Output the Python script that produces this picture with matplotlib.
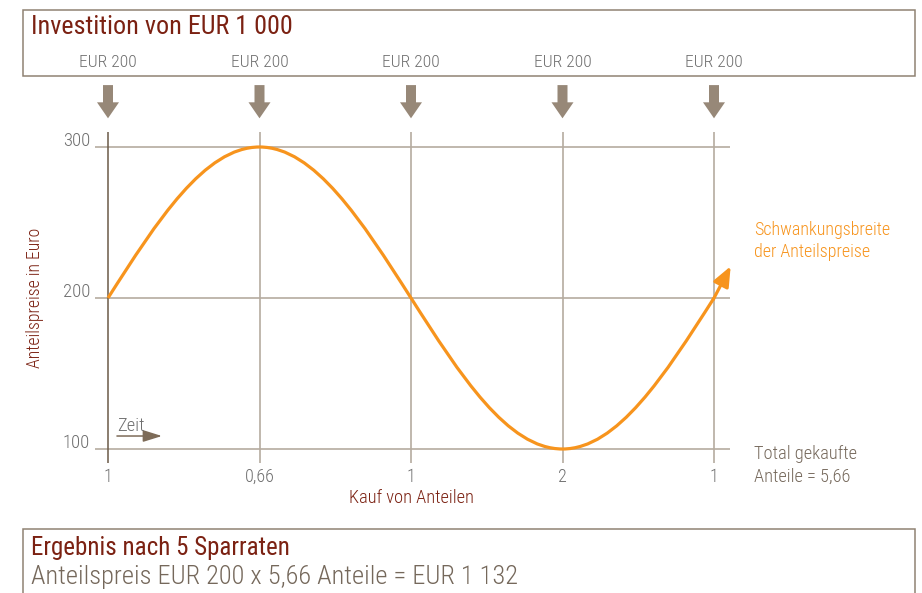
import os
import matplotlib
matplotlib.use("Agg")
import matplotlib.pyplot as plt
import matplotlib.font_manager as fm
from matplotlib.path import Path
from matplotlib.patches import PathPatch, FancyArrow, Rectangle

# ---------------- data ----------------
purchase_idx = [0, 1, 2, 3, 4]
prices = [200, 300, 200, 100, 200]
price_mean = 200
shares_labels = ["1", "0,66", "1", "2", "1"]
rate_labels = ["EUR 200", "EUR 200", "EUR 200", "EUR 200", "EUR 200"]
price_ticks = [100, 200, 300]
title_top = "Investition von EUR 1 000"
result_title = "Ergebnis nach 5 Sparraten"
result_text = "Anteilspreis EUR 200 x 5,66 Anteile = EUR 1 132"
total_text = "Total gekaufte\nAnteile = 5,66"
range_text = "Schwankungsbreite\nder Anteilspreise"

# ---------------- fonts ----------------
files = [f.fname for f in fm.fontManager.ttflist]
def find_font(patterns):
    for p in patterns:
        for fn in files:
            if os.path.basename(fn).lower() == p:
                return fn
    return None

light_file = find_font(["robotocondensed-light.ttf", "roboto-light.ttf",
                        "opensans-light.ttf", "lato-light.ttf"])
reg_file = find_font(["robotocondensed-regular.ttf", "roboto-regular.ttf",
                      "opensans-regular.ttf", "lato-regular.ttf"])

def fp(size, light=True):
    f = light_file if light else reg_file
    if f:
        return fm.FontProperties(fname=f, size=size)
    return fm.FontProperties(family="DejaVu Sans", size=size)

# ---------------- colours ----------------
DARKRED = "#7b2112"
GRAY = "#6f6f6f"
BROWN = "#75685b"
ORANGE = "#f7941d"
ARROW = "#978878"
GRID = "#b5aba0"
FIRSTV = "#6b5a48"
BOX = "#8f8273"

W, H = 922, 593
fig = plt.figure(figsize=(W / 100, H / 100), dpi=100)

def fx(x):
    return x / W
def fy(y):
    return 1 - y / H

# boxes
fig.patches.append(Rectangle((fx(23), fy(76)), fx(915) - fx(23), fy(10) - fy(76),
                             transform=fig.transFigure, fill=False, ec=BOX, lw=1.1))
fig.patches.append(Rectangle((fx(23), fy(600)), fx(915) - fx(23), fy(529) - fy(600),
                             transform=fig.transFigure, fill=False, ec=BOX, lw=1.1,
                             clip_on=False))

fig.text(fx(31), fy(27), title_top, color=DARKRED, fontproperties=fp(18.8, light=False),
         ha="left", va="center")
fig.text(fx(31), fy(548), result_title, color=DARKRED, fontproperties=fp(18, light=False),
         ha="left", va="center")
fig.text(fx(31), fy(577), result_text, color=BROWN, fontproperties=fp(19),
         ha="left", va="center")

# ---------------- axes ----------------
# x: 151.5 px per purchase step, x=0 at px 108 ; y: 1.51 px per EUR, 100 at px 449
L = 108 - 0.5 * 151.5
R = 108 + 4.5 * 151.5
T = 147 - 20 * 1.51
B = 449 + 20 * 1.51
ax = fig.add_axes([fx(L), fy(B), fx(R) - fx(L), fy(T) - fy(B)])
ax.set_xlim(-0.5, 4.5)
ax.set_ylim(80, 320)
ax.axis("off")

# grid
ax.hlines(price_ticks, -0.086, 4.106, color=GRID, lw=1.2, zorder=1)
for i, x in enumerate(purchase_idx):
    ax.vlines(x, 90.7, 310, color=FIRSTV if i == 0 else GRID, lw=1.1 if i == 0 else 1.2,
              zorder=1)

# y labels
for p in price_ticks:
    ax.text(-0.118, p + 4, str(p), ha="right", va="center", color=GRAY,
            fontproperties=fp(13.5))

# x labels
for x, lab in zip(purchase_idx, shares_labels):
    ax.text(x, 81.5, lab, ha="center", va="center", color=GRAY, fontproperties=fp(13))
ax.text(2, 67.5, "Kauf von Anteilen", ha="center", va="center", color=DARKRED,
        fontproperties=fp(13.2))
fig.text(fx(35), fy(298), "Anteilspreise in Euro", rotation=90, ha="center",
         va="center", color=DARKRED, fontproperties=fp(12.8))

# top labels and arrows
for x, lab in zip(purchase_idx, rate_labels):
    ax.text(x, (449 - 62) / 1.51 + 100, lab, ha="center", va="center", color=GRAY,
            fontproperties=fp(12.6), clip_on=False)
    ax.add_patch(FancyArrow(x, 341, 0, -22, width=10 / 151.5, head_width=22 / 151.5,
                            head_length=16 / 1.51, length_includes_head=True,
                            color=ARROW, lw=0, clip_on=False))

# price curve: quarter-wave cubic Bezier segments through the purchase prices
C1, C1Y, C2 = 0.3261, 0.5123, 0.6380
verts = [(purchase_idx[0], prices[0])]
codes = [Path.MOVETO]
for i in range(len(purchase_idx) - 1):
    x0, y0 = purchase_idx[i], prices[i]
    x1, y1 = purchase_idx[i + 1], prices[i + 1]
    dx = x1 - x0
    if y0 == price_mean:  # mean -> extreme
        p1 = (x0 + C1 * dx, y0 + C1Y * (y1 - y0))
        p2 = (x0 + C2 * dx, y1)
    else:  # extreme -> mean
        p1 = (x0 + (1 - C2) * dx, y0)
        p2 = (x0 + (1 - C1) * dx, y1 + C1Y * (y0 - y1))
    verts += [p1, p2, (x1, y1)]
    codes += [Path.CURVE4] * 3
ax.add_patch(PathPatch(Path(verts, codes), fill=False, ec=ORANGE, lw=2.3,
                       capstyle="butt", zorder=3))
ax.annotate("", xy=(4.11, 221), xytext=(purchase_idx[-1] - 0.005, prices[-1] - 1),
            arrowprops=dict(arrowstyle="-|>,head_length=1.2,head_width=0.5",
                            color=ORANGE, lw=2.3, shrinkA=0, shrinkB=0),
            zorder=3, annotation_clip=False)

# Zeit arrow
ax.annotate("", xy=(0.356, 108.6), xytext=(0.059, 108.6),
            arrowprops=dict(arrowstyle="-|>,head_length=1.15,head_width=0.36",
                            color="#7d6b58", lw=1.1, shrinkA=0, shrinkB=0))
ax.text(0.062, 109.3, "Zeit", ha="left", va="bottom", color=GRAY, fontproperties=fp(13.3))

# right annotations
fig.text(fx(754), fy(241), range_text, ha="left", va="center", color=ORANGE,
         fontproperties=fp(13), linespacing=1.3)
fig.text(fx(754), fy(465), total_text, ha="left", va="center", color=BROWN,
         fontproperties=fp(13.2), linespacing=1.35)

fig.savefig("out.png", dpi=100)
